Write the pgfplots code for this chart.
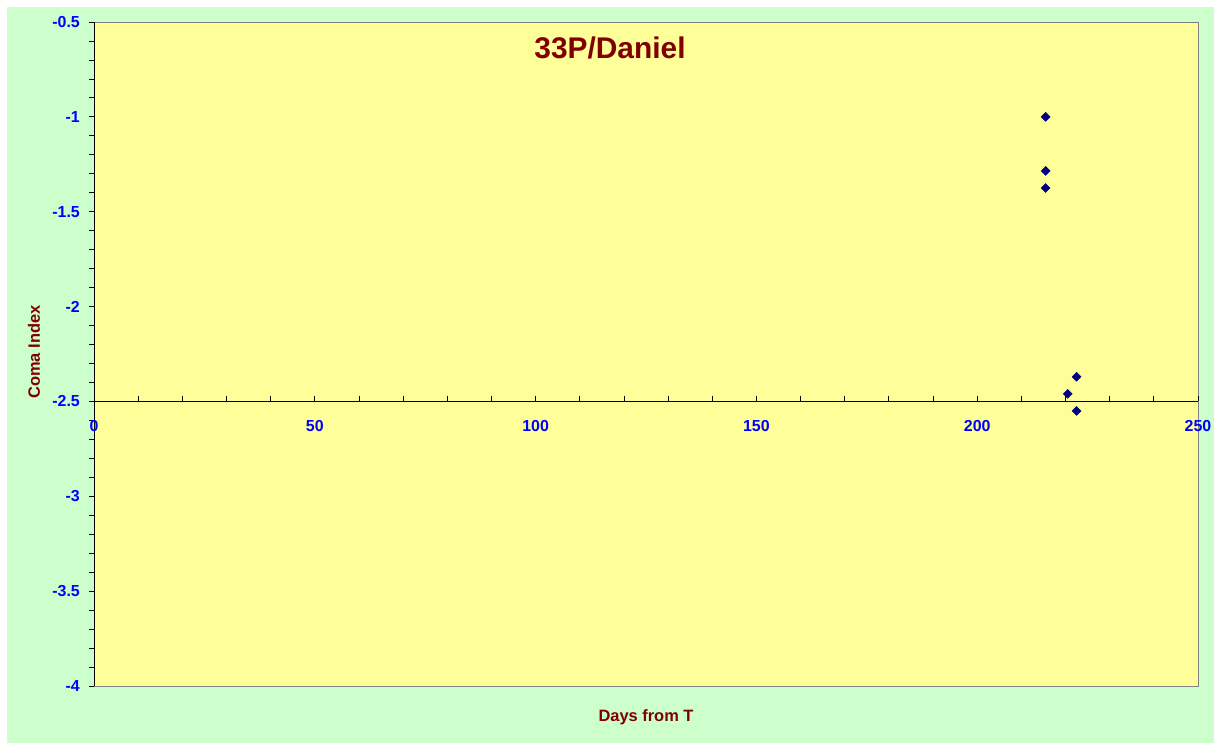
\documentclass[border=0pt]{standalone}
\usepackage{fontspec}
\setmainfont{Liberation Sans}
\usepackage{pgfplots}
\pgfplotsset{compat=1.18}
\definecolor{outergreen}{HTML}{CCFFCC}
\definecolor{plotyellow}{HTML}{FFFF99}
\definecolor{labelred}{HTML}{800000}
\definecolor{tickblue}{HTML}{0000FF}
\definecolor{marknavy}{HTML}{000080}

\begin{document}
\begin{tikzpicture}
  % page and chart area (axis box sits at 0,0 -- 1104bp,664bp)
  \fill[white] (-94bp,-64bp) rectangle (1127bp,686bp);
  \fill[outergreen] (-87bp,-57bp) rectangle (1120bp,679bp);

  \begin{axis}[
    scale only axis,
    width=1104bp, height=664bp,
    at={(0,0)}, anchor=south west,
    xmin=0, xmax=250,
    ymin=-4, ymax=-0.5,
    axis background/.style={fill=plotyellow},
    axis line style={draw=gray},
    xtick=\empty,
    ytick={-4,-3.5,...,-0.5},
    minor y tick num=4,
    ytick pos=left,
    tick align=outside,
    major tick length=5bp, minor tick length=5bp,
    every tick/.style={black, line width=0.8pt},
    /pgf/number format/assume math mode=true,
    yticklabel style={font=\fontsize{16}{18}\selectfont\bfseries, text=tickblue,
      anchor=east, inner sep=0pt, xshift=-9bp},
    clip=false,
  ]
    \draw[black, line width=1pt] (rel axis cs:0,0) -- (rel axis cs:0,1);
    \addplot[only marks, mark=square*, mark size=3.2bp,
      mark options={rotate=45, fill=marknavy, draw=marknavy}]
      coordinates {
        (215.5,-1.00) (215.5,-1.285) (215.5,-1.375)
        (220.5,-2.46) (222.5,-2.37) (222.5,-2.55)
      };
  \end{axis}

  % x axis drawn across the plot at y = -2.5
  \begin{axis}[
    scale only axis,
    width=1104bp, height=379.43bp,
    at={(0,284.57bp)}, anchor=south west,
    xmin=0, xmax=250,
    ymin=-2.5, ymax=-0.5,
    axis x line=bottom, axis y line=none,
    x axis line style={-, black, line width=1pt},
    xtick={0,50,...,250},
    minor x tick num=4,
    tick align=inside,
    major tick length=5bp, minor tick length=5bp,
    every tick/.style={black, line width=0.8pt},
    /pgf/number format/assume math mode=true,
    xticklabel style={font=\fontsize{16}{18}\selectfont\bfseries, text=tickblue,
      anchor=center, inner sep=0pt, yshift=-25bp},
  ]
  \end{axis}

  \node[text=labelred, font=\fontsize{30}{34}\selectfont\bfseries]
    at (516bp,638bp) {33P/Daniel};
  \node[text=labelred, font=\fontsize{16.5}{18}\selectfont\bfseries]
    at (552bp,-31bp) {Days from T};
  \node[text=labelred, font=\fontsize{16.5}{18}\selectfont\bfseries, rotate=90]
    at (-60bp,334bp) {Coma Index};
\end{tikzpicture}
\end{document}
